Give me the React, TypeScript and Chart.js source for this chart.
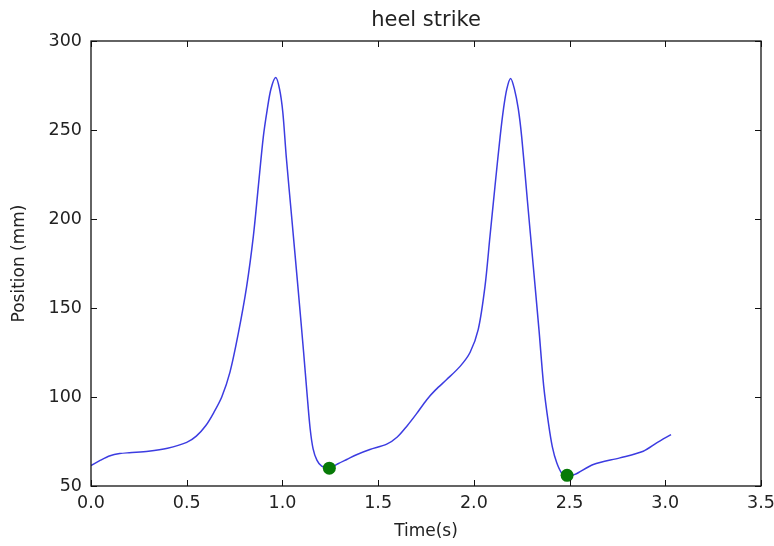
import React, { useEffect, useRef } from "react";
import { Chart, registerables } from "chart.js";

Chart.register(...registerables);

const timeValues = [
  0.0, 0.05, 0.1, 0.15, 0.2, 0.3, 0.4, 0.5, 0.55, 0.6, 0.64, 0.683, 0.726, 0.77, 0.813, 0.848, 0.874, 0.9,
  0.92, 0.94, 0.965, 0.985, 1.002, 1.02, 1.05, 1.08, 1.11, 1.13, 1.145, 1.16, 1.18, 1.205, 1.245, 1.29,
  1.336, 1.39, 1.457, 1.545, 1.6, 1.65, 1.7, 1.754, 1.8, 1.858, 1.928, 1.98, 2.023, 2.058, 2.084, 2.11,
  2.137, 2.155, 2.172, 2.192, 2.212, 2.232, 2.25, 2.28, 2.31, 2.34, 2.365, 2.39, 2.41, 2.433, 2.46, 2.485,
  2.528, 2.624, 2.763, 2.885, 2.955, 3.03,
];
const positionValues = [
  61.5, 64.5, 67, 68.2, 68.7, 69.5, 71.2, 74.5, 78, 84, 91, 100, 114, 136, 162, 190.2, 218.2, 246,
  261, 273, 279.5, 273, 260, 235, 199, 163, 126, 100, 82, 71, 64.5, 61.1, 60, 62.5,
  64.9, 67.7, 70.5, 73.5, 77.5, 83.6, 90.5, 98.5, 104, 109.8, 117.2, 125, 138, 162, 190, 218,
  246, 262, 273, 279, 273, 262, 246, 210, 174, 138, 106, 85, 72, 63, 57, 55.5,
  56.5, 62.1, 65.8, 69.5, 74.2, 78.9,
];
const strikeTimes = [1.245, 2.487];
const strikePositions = [60, 56];

const xTicks = [0, 0.5, 1, 1.5, 2, 2.5, 3, 3.5];
const yTicks = [50, 100, 150, 200, 250, 300];

const titleText = "heel strike";
const xLabel = "Time(s)";
const yLabel = "Position (mm)";

const FONT = "'DejaVu Sans', sans-serif";

const framePlugin = {
  id: "frameAndText",
  afterDraw(chart: any) {
    const { ctx, chartArea } = chart;
    const { left, right, top, bottom } = chartArea;
    const xs = chart.scales.x;
    const ys = chart.scales.y;
    ctx.save();
    ctx.strokeStyle = "#111";
    ctx.lineWidth = 1.3;
    ctx.strokeRect(left, top, right - left, bottom - top);
    const tl = 6;
    ctx.lineWidth = 1;
    ctx.beginPath();
    xTicks.forEach((v) => {
      const px = Math.round(xs.getPixelForValue(v)) + 0.5;
      ctx.moveTo(px, bottom);
      ctx.lineTo(px, bottom - tl);
      ctx.moveTo(px, top);
      ctx.lineTo(px, top + tl);
    });
    yTicks.forEach((v) => {
      const py = Math.round(ys.getPixelForValue(v)) + 0.5;
      ctx.moveTo(left, py);
      ctx.lineTo(left + tl, py);
      ctx.moveTo(right, py);
      ctx.lineTo(right - tl, py);
    });
    ctx.stroke();

    ctx.fillStyle = "#222";
    ctx.textAlign = "center";
    ctx.textBaseline = "middle";
    ctx.font = `21px ${FONT}`;
    ctx.fillText(titleText, (left + right) / 2, 21);
    ctx.font = `17px ${FONT}`;
    ctx.fillText(xLabel, (left + right) / 2, 532);
    ctx.translate(20, (top + bottom) / 2);
    ctx.rotate(-Math.PI / 2);
    ctx.fillText(yLabel, 0, 0);
    ctx.restore();
  },
};

export default function App() {
  const ref = useRef<HTMLCanvasElement | null>(null);
  useEffect(() => {
    if (!ref.current) return;
    const lineData = timeValues.map((t, i) => ({ x: t, y: positionValues[i] }));
    const dotData = strikeTimes.map((t, i) => ({ x: t, y: strikePositions[i] }));
    const chart = new Chart(ref.current, {
      type: "line",
      data: {
        datasets: [
          {
            data: lineData,
            order: 2,
            borderColor: "rgb(60,60,225)",
            borderWidth: 1.5,
            pointRadius: 0,
            fill: false,
            tension: 0.3,
          },
          {
            data: dotData,
            order: 1,
            showLine: false,
            pointRadius: 6.5,
            pointBackgroundColor: "#077a07",
            pointBorderColor: "#077a07",
            pointBorderWidth: 0,
          },
        ],
      },
      options: {
        responsive: false,
        animation: false,
        layout: { padding: { left: 0, top: 41, right: 13, bottom: 0 } },
        plugins: { legend: { display: false }, tooltip: { enabled: false }, title: { display: false } },
        scales: {
          x: {
            type: "linear",
            min: 0,
            max: 3.5,
            grid: { display: false, drawTicks: false },
            border: { display: false },
            afterBuildTicks: (scale: any) => {
              scale.ticks = xTicks.map((v) => ({ value: v }));
            },
            afterFit: (scale: any) => {
              scale.height = 60;
              scale.paddingLeft = 0;
              scale.paddingRight = 0;
            },
            ticks: {
              padding: 7,
              color: "#222",
              font: { family: FONT, size: 17.5 },
              maxRotation: 0,
              callback: (v: any) => Number(v).toFixed(1),
            },
          },
          y: {
            type: "linear",
            min: 50,
            max: 300,
            grid: { display: false, drawTicks: false },
            border: { display: false },
            afterBuildTicks: (scale: any) => {
              scale.ticks = yTicks.map((v) => ({ value: v }));
            },
            afterFit: (scale: any) => {
              scale.width = 91;
              scale.paddingTop = 0;
              scale.paddingBottom = 0;
            },
            ticks: {
              padding: 9,
              color: "#222",
              font: { family: FONT, size: 17.5 },
              callback: (v: any) => String(v),
            },
          },
        },
      },
      plugins: [framePlugin],
    } as any);
    return () => chart.destroy();
  }, []);
  return (
    <div style={{ position: "absolute", left: 0, top: 0, width: 774, height: 546, background: "#fff" }}>
      <canvas ref={ref} width={774} height={546} />
    </div>
  );
}
